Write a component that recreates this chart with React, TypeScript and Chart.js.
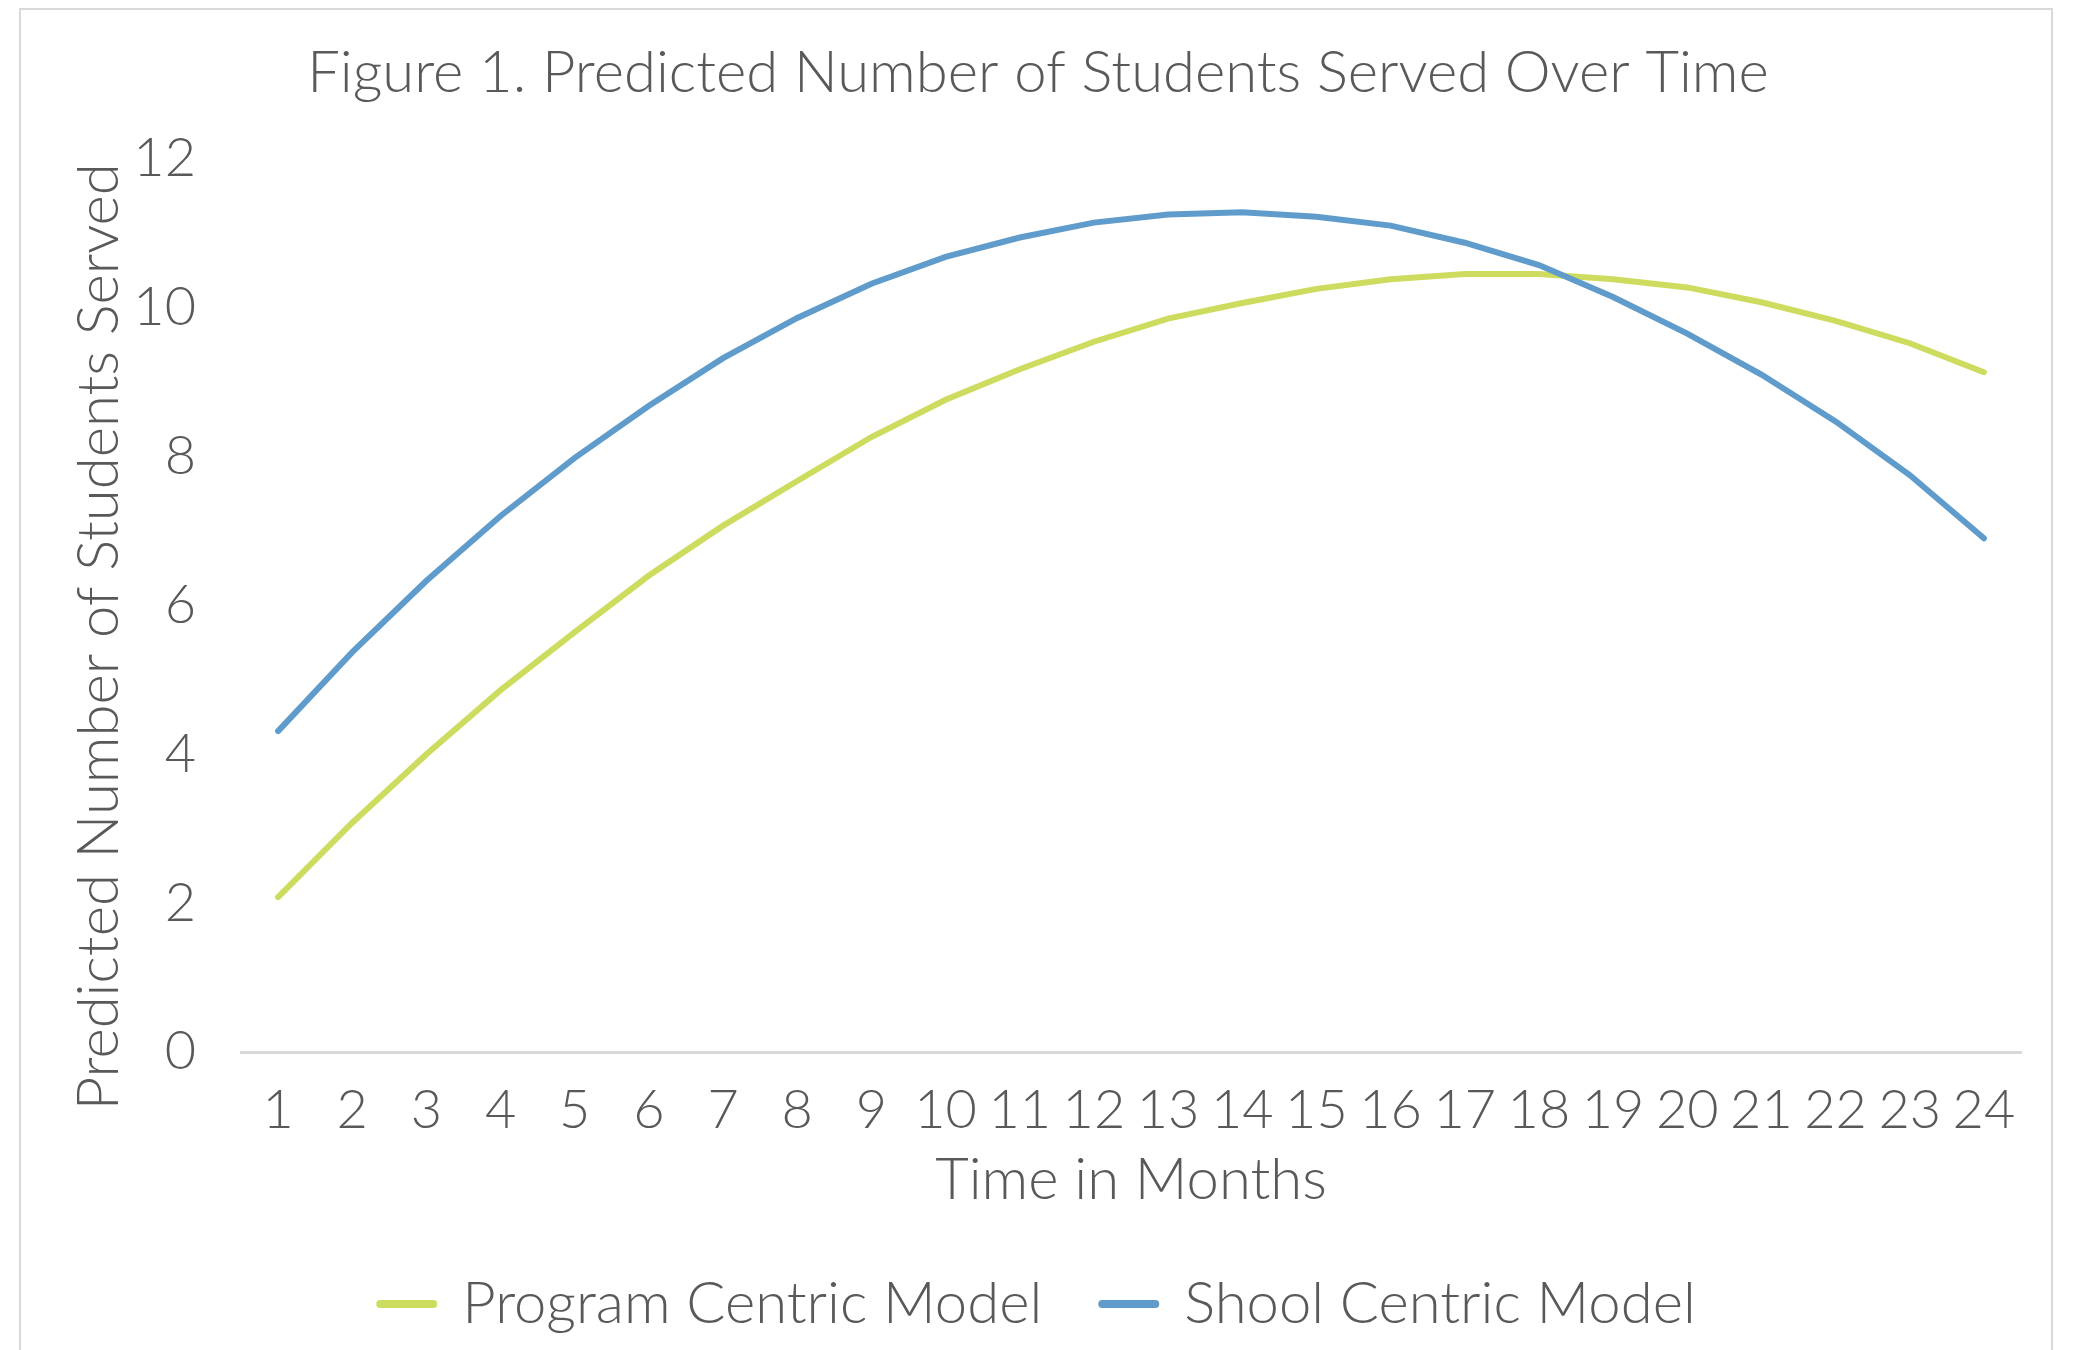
import React, { useEffect, useRef } from "react";
import { Chart, registerables } from "chart.js";

Chart.register(...registerables);

const months = ["1", "2", "3", "4", "5", "6", "7", "8", "9", "10", "11", "12", "13", "14", "15", "16", "17", "18", "19", "20", "21", "22", "23", "24"];
const programCentric = [2.08, 3.08, 4.0, 4.86, 5.64, 6.4, 7.07, 7.67, 8.26, 8.76, 9.17, 9.54, 9.85, 10.06, 10.25, 10.38, 10.45, 10.45, 10.38, 10.27, 10.07, 9.82, 9.52, 9.13];
const schoolCentric = [4.31, 5.37, 6.33, 7.2, 7.98, 8.68, 9.32, 9.86, 10.32, 10.68, 10.94, 11.14, 11.25, 11.28, 11.22, 11.1, 10.87, 10.57, 10.14, 9.65, 9.1, 8.47, 7.75, 6.9];
const yMin = 0;
const yMax = 12;
const yStep = 2;
const seriesNames = ["Program Centric Model", "Shool Centric Model"];
const chartTitle = "Figure 1. Predicted Number of Students Served Over Time";
const xAxisTitle = "Time in Months";
const yAxisTitle = "Predicted Number of Students Served";

const FONT_FAMILY = "Lato, 'Open Sans', 'Noto Sans', sans-serif";
const TEXT_COLOR = "#595959";
const GREEN = "#CDDC5E";
const BLUE = "#5F9CCB";
const TITLE_SIZE = 58;
const TICK_SIZE = 54;

export default function App() {
  const canvasRef = useRef<HTMLCanvasElement | null>(null);

  useEffect(() => {
    const canvas = canvasRef.current;
    if (!canvas) return;
    const font = { family: FONT_FAMILY, size: TITLE_SIZE, weight: 300 as any, lineHeight: 1.2 };
    const tickFont = { family: FONT_FAMILY, size: TICK_SIZE, weight: 300 as any, lineHeight: 1.2 };
    const defaultLabels = (Chart.defaults as any).plugins.legend.labels.generateLabels;
    // the reference's y title sits a little below the plot's middle: pad its end
    const yTitleShifted = yAxisTitle + "\u00A0\u00A0\u00A0\u00A0";
    const chart = new Chart(canvas, {
      type: "line",
      data: {
        labels: months,
        datasets: [
          {
            label: seriesNames[0],
            data: programCentric,
            borderColor: GREEN,
            backgroundColor: GREEN,
            borderWidth: 6,
            borderCapStyle: "round",
            pointRadius: 0,
            tension: 0,
            order: 2,
          },
          {
            label: seriesNames[1],
            data: schoolCentric,
            borderColor: BLUE,
            backgroundColor: BLUE,
            borderWidth: 6,
            borderCapStyle: "round",
            pointRadius: 0,
            tension: 0,
            order: 1,
          },
        ],
      },
      options: {
        responsive: false,
        animation: false,
        devicePixelRatio: 1,
        layout: { padding: { left: 20, right: 20, top: 10, bottom: 7 } },
        plugins: {
          title: {
            display: true,
            text: chartTitle,
            color: TEXT_COLOR,
            font,
            padding: { top: 28, bottom: 51 },
          },
          legend: {
            position: "bottom",
            labels: {
              usePointStyle: true,
              pointStyle: "line",
              pointStyleWidth: 53,
              boxHeight: TITLE_SIZE,
              color: TEXT_COLOR,
              font,
              padding: 60,
              sort: (a: any, b: any) => a.datasetIndex - b.datasetIndex,
              generateLabels: (c: any) =>
                defaultLabels(c).map((item: any) => ({ ...item, lineWidth: 8, lineCap: "round" })),
            },
          },
          tooltip: { enabled: false },
        },
        scales: {
          x: {
            type: "category",
            offset: true,
            grid: { display: false, drawTicks: false },
            border: { display: true, color: "#D9D9D9", width: 3 },
            ticks: { color: TEXT_COLOR, font: tickFont, padding: 26, autoSkip: false, maxRotation: 0 },
            title: { display: true, text: xAxisTitle, color: TEXT_COLOR, font, padding: { top: 0, bottom: 0 } },
            afterFit: (s: any) => {
              s.height = 163;
            },
          },
          y: {
            type: "linear",
            min: yMin,
            max: yMax,
            ticks: { stepSize: yStep, color: TEXT_COLOR, font: tickFont, padding: 45 },
            grid: { display: false, drawTicks: false },
            border: { display: false },
            title: { display: true, text: yTitleShifted, color: TEXT_COLOR, font, padding: { top: 44, bottom: 0 } },
            afterFit: (s: any) => {
              s.width = 221;
            },
          },
          yRight: {
            type: "linear",
            position: "right",
            display: true,
            grid: { display: false, drawTicks: false },
            border: { display: false },
            ticks: { display: false },
            afterFit: (s: any) => {
              s.width = 35;
            },
          },
        },
      },
    } as any);
    return () => chart.destroy();
  }, []);

  return (
    <div style={{ position: "fixed", left: 0, top: 0, width: 2076, height: 1350, overflow: "hidden", background: "#ffffff" }}>
      <div
        style={{
          position: "absolute",
          left: 19,
          top: 8,
          width: 2034,
          height: 1400,
          border: "2px solid #D9D9D9",
          boxSizing: "border-box",
        }}
      />
      <canvas ref={canvasRef} width={2076} height={1350} style={{ position: "absolute", left: 0, top: 0, display: "block" }} />
    </div>
  );
}
